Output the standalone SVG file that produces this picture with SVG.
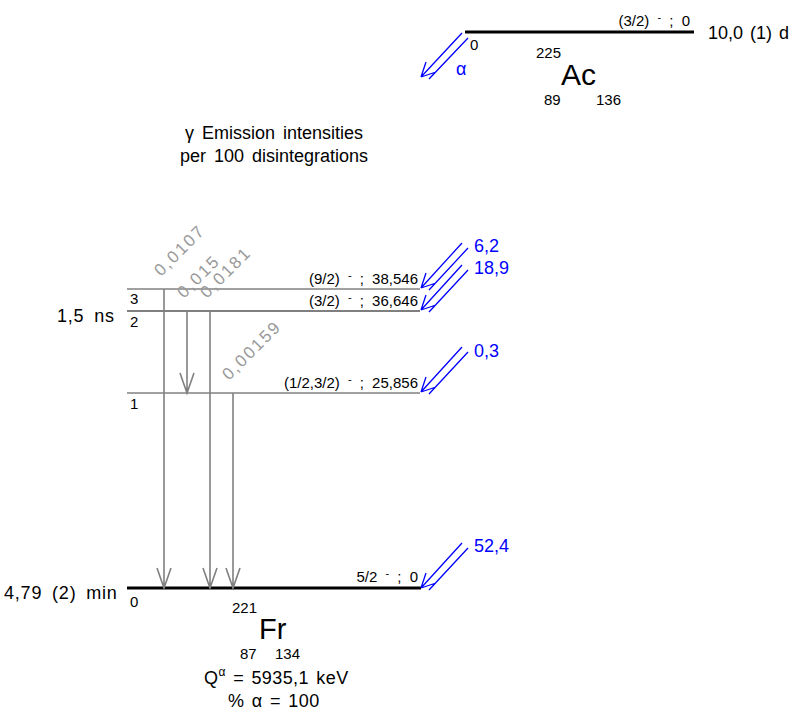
<svg xmlns="http://www.w3.org/2000/svg" width="797" height="717" viewBox="0 0 797 717">
<style>
text{font-family:"Liberation Sans",Arial,sans-serif;fill:#000}
.lv{font-size:15px;text-anchor:end;word-spacing:4px}
.sm{font-size:15px}
.big{font-size:18px;word-spacing:2px}
.wide{letter-spacing:0.8px;word-spacing:4px}
.blue{fill:#0000ff;font-size:18px}
.gl{fill:#999;font-size:17px;letter-spacing:2px}
.g{stroke:#808080;stroke-width:1.6;fill:none}
.b{stroke:#0000ff;stroke-width:1.3;fill:none}
</style>
<rect width="797" height="717" fill="#fff"/>

<g id="parent">
<line x1="465" y1="32" x2="694" y2="32" stroke="#000" stroke-width="3"/>
<text x="690" y="26" class="lv">(3/2) <tspan font-size="11" dy="-5">-</tspan><tspan dy="5"> ; 0</tspan></text>
<text x="708" y="39" class="big" word-spacing="3">10,0 (1) d</text>
<text x="470" y="50" class="sm">0</text>
<text x="536" y="58" class="sm">225</text>
<text x="561" y="85" font-size="30">Ac</text>
<text x="544" y="105" class="sm">89</text>
<text x="596" y="105" class="sm">136</text>
</g>

<g id="alpha">
<path class="b" d="M462,33 L421,77 M468,38 L429,79 M421,77 L426,62 M421,77 L436,72"/>
<text x="456" y="75" class="blue">α</text>
</g>

<g id="title">
<text x="274" y="139" text-anchor="middle" font-size="18" word-spacing="3">γ Emission intensities</text>
<text x="274" y="162" text-anchor="middle" font-size="18" word-spacing="3">per 100 disintegrations</text>
</g>

<g id="level3">
<line x1="127" y1="289" x2="420" y2="289" stroke="#808080" stroke-width="1.5"/>
<text x="418" y="284" class="lv">(9/2) <tspan font-size="11" dy="-5">-</tspan><tspan dy="5"> ; 38,546</tspan></text>
<text x="130" y="304" class="sm">3</text>
</g>
<g id="level2">
<line x1="127" y1="311" x2="420" y2="311" stroke="#000" stroke-width="1.2"/>
<text x="418" y="306" class="lv">(3/2) <tspan font-size="11" dy="-5">-</tspan><tspan dy="5"> ; 36,646</tspan></text>
<text x="130" y="327" class="sm">2</text>
<text x="57" y="322" class="big wide">1,5 ns</text>
</g>
<g id="level1">
<line x1="127" y1="393" x2="420" y2="393" stroke="#808080" stroke-width="1.5"/>
<text x="418" y="388" class="lv">(1/2,3/2) <tspan font-size="11" dy="-5">-</tspan><tspan dy="5"> ; 25,856</tspan></text>
<text x="130" y="409" class="sm">1</text>
</g>
<g id="level0">
<line x1="127" y1="588" x2="421" y2="588" stroke="#000" stroke-width="3"/>
<text x="418" y="582" class="lv">5/2 <tspan font-size="11" dy="-5">-</tspan><tspan dy="5"> ; 0</tspan></text>
<text x="130" y="607" class="sm">0</text>
<text x="4" y="599" class="big wide">4,79 (2) min</text>
</g>

<g id="connectors">
<path class="g" d="M164,289 V587 M157,568 L164,588 L171,568"/>
<path class="g" d="M187,311 V392 M180,373 L187,393 L194,373"/>
<path class="g" d="M210,311 V587 M203,568 L210,588 L217,568"/>
<path class="g" d="M233,393 V587 M226,568 L233,588 L240,568"/>
<path class="b" d="M462,243 L421,288 M468,248 L429,290 M421,288 L426,273 M421,288 L436,283"/>
<path class="b" d="M462,265 L421,310 M468,270 L429,312 M421,310 L426,295 M421,310 L436,305"/>
<path class="b" d="M462,347 L421,392 M468,352 L429,394 M421,392 L426,377 M421,392 L436,387"/>
<path class="b" d="M462,543 L421,588 M468,548 L429,590 M421,588 L426,573 M421,588 L436,583"/>
</g>

<g id="gamma-labels">
<text class="gl" transform="translate(161,277) rotate(-45)">0,0107</text>
<text class="gl" transform="translate(184,299) rotate(-45)">0,015</text>
<text class="gl" transform="translate(207,299) rotate(-45)">0,0181</text>
<text class="gl" transform="translate(229,381) rotate(-45)">0,00159</text>
</g>

<g id="feed-labels">
<text x="474" y="252" class="blue">6,2</text>
<text x="474" y="274" class="blue">18,9</text>
<text x="474" y="357" class="blue">0,3</text>
<text x="474" y="552" class="blue">52,4</text>
</g>

<g id="daughter">
<text x="232" y="613" class="sm">221</text>
<text x="259" y="639" font-size="29">Fr</text>
<text x="240" y="659" class="sm">87</text>
<text x="275" y="659" class="sm">134</text>
<text x="204" y="684" class="big" word-spacing="5" letter-spacing="0.4">Q<tspan font-size="12" dy="-8">α</tspan><tspan dy="8"> = 5935,1 keV</tspan></text>
<text x="228" y="707" class="big" word-spacing="6" letter-spacing="0.4">% α = 100</text>
</g>
</svg>
